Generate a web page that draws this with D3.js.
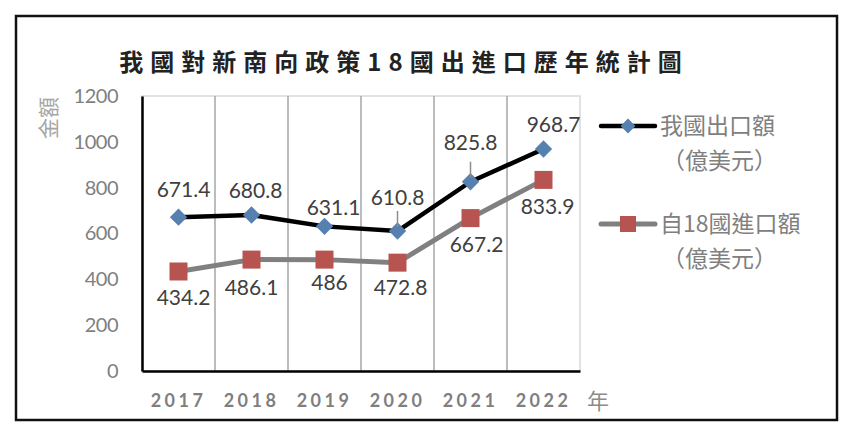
<html>
<head>
<meta charset="utf-8">
<script src="https://cdn.jsdelivr.net/npm/d3@7"></script>
<style>
  body { margin: 0; background: #fff; }
  text { font-family: Lato, "Noto Sans CJK TC", sans-serif; }
  .cjk { font-family: "Noto Sans CJK TC", sans-serif; }
</style>
</head>
<body>
<svg id="chart" width="861" height="427"></svg>
<script>
  // data
  const years = ["2017", "2018", "2019", "2020", "2021", "2022"]
  const exportValues = [671.4, 680.8, 631.1, 610.8, 825.8, 968.7]
  const importValues = [434.2, 486.1, 486, 472.8, 667.2, 833.9]
  const yTicks = [0, 200, 400, 600, 800, 1000, 1200]
  const seriesNames = ["我國出口額", "自18國進口額"]
  const unitLabel = "（億美元）"

  // label nudges (dx, dy) relative to the point
  const exportLabelPos = [[5, -27], [4, -24], [9, -19], [0, -33], [0, -39], [10, -24]]
  const importLabelPos = [[5, 26], [0, 28], [5, 23], [3, 25], [6, 27], [4, 27]]

  let svg = d3.select("#chart")

  // outer frame
  svg.append("rect")
    .attr("x", 16).attr("y", 16)
    .attr("width", 821).attr("height", 404)
    .attr("fill", "#fff")
    .attr("stroke", "#111")
    .attr("stroke-width", 2.5)

  svg.append("text")
    .attr("class", "cjk")
    .attr("x", 404).attr("y", 71)
    .attr("text-anchor", "middle")
    .attr("font-size", 24)
    .attr("font-weight", "bold")
    .attr("letter-spacing", 7)
    .attr("fill", "#222")
    .text("我國對新南向政策18國出進口歷年統計圖")

  let plotLeft = 142, plotRight = 580, plotTop = 96, plotBottom = 371

  let x = d3.scaleBand().domain(years).range([plotLeft, plotRight])
  let y = d3.scaleLinear().domain([0, 1200]).range([plotBottom, plotTop])

  // plot area border (light)
  svg.append("rect")
    .attr("x", plotLeft).attr("y", plotTop)
    .attr("width", plotRight - plotLeft).attr("height", plotBottom - plotTop)
    .attr("fill", "none")
    .attr("stroke", "#d9d9d9")
    .attr("stroke-width", 1.5)

  // vertical grid lines between categories
  svg.append("g")
    .selectAll("line")
    .data(years.slice(1))
    .enter().append("line")
    .attr("x1", d => x(d)).attr("x2", d => x(d))
    .attr("y1", plotTop).attr("y2", plotBottom)
    .attr("stroke", "#a6a6a6")
    .attr("stroke-width", 1.5)

  // y axis
  let yAxis = d3.axisLeft(y).tickValues(yTicks).tickFormat(d3.format("d")).tickSize(0).tickPadding(24)
  let gy = svg.append("g").attr("transform", `translate(${plotLeft},0)`).call(yAxis)
  gy.select(".domain").attr("stroke", "#000").attr("stroke-width", 2.5)
  gy.selectAll("text")
    .attr("font-size", 20)
    .attr("fill", "#7f7f7f")
    .attr("letter-spacing", -0.5)

  // x axis
  let xAxis = d3.axisBottom(x).tickSize(0).tickPadding(23)
  let gx = svg.append("g").attr("transform", `translate(0,${plotBottom})`).call(xAxis)
  gx.select(".domain").attr("stroke", "#000").attr("stroke-width", 2.5)
  gx.selectAll("text")
    .attr("font-size", 18)
    .attr("font-weight", "bold")
    .attr("letter-spacing", 3.5)
    .attr("fill", "#7f7f7f")

  svg.append("text")
    .attr("class", "cjk")
    .attr("x", 598).attr("y", 409)
    .attr("text-anchor", "middle")
    .attr("font-size", 22)
    .attr("fill", "#8c8c8c")
    .text("年")

  svg.append("text")
    .attr("class", "cjk")
    .attr("transform", "translate(56,118) rotate(-90)")
    .attr("text-anchor", "middle")
    .attr("font-size", 21)
    .attr("fill", "#a6a6a6")
    .text("金額")

  let cx = d => x(d) + x.bandwidth() / 2
  let line = d3.line()
    .x((d, i) => cx(years[i]))
    .y(d => y(d))

  // import series
  svg.append("path")
    .datum(importValues)
    .attr("d", line)
    .attr("fill", "none")
    .attr("stroke", "#808080")
    .attr("stroke-width", 5)
    .attr("stroke-linejoin", "round")

  // export series
  svg.append("path")
    .datum(exportValues)
    .attr("d", line)
    .attr("fill", "none")
    .attr("stroke", "#000")
    .attr("stroke-width", 4.5)
    .attr("stroke-linejoin", "round")

  let diamond = d3.symbol().type(d3.symbolSquare).size(150)

  svg.append("g").selectAll("path")
    .data(exportValues)
    .enter().append("path")
    .attr("d", diamond)
    .attr("transform", (d, i) => `translate(${cx(years[i])},${y(d)}) rotate(45)`)
    .attr("fill", "#5580b0")

  svg.append("g").selectAll("rect")
    .data(importValues)
    .enter().append("rect")
    .attr("x", (d, i) => cx(years[i]) - 9)
    .attr("y", d => y(d) - 9)
    .attr("width", 18).attr("height", 18)
    .attr("fill", "#b85450")

  // leader ticks for the labels sitting high above points
  svg.append("g").selectAll("line")
    .data(exportValues.map((v, i) => [v, i]).filter(d => exportLabelPos[d[1]][1] < -30))
    .enter().append("line")
    .attr("x1", d => cx(years[d[1]])).attr("x2", d => cx(years[d[1]]))
    .attr("y1", d => y(d[0]) - 20).attr("y2", d => y(d[0]) - 4)
    .attr("stroke", "#8c8c8c")
    .attr("stroke-width", 1.5)

  // data labels
  svg.append("g").selectAll("text")
    .data(exportValues)
    .enter().append("text")
    .attr("x", (d, i) => cx(years[i]) + exportLabelPos[i][0])
    .attr("y", (d, i) => y(d) + exportLabelPos[i][1])
    .attr("dy", "0.35em")
    .attr("text-anchor", "middle")
    .attr("font-size", 21)
    .attr("fill", "#404040")
    .text(d => d)

  svg.append("g").selectAll("text")
    .data(importValues)
    .enter().append("text")
    .attr("x", (d, i) => cx(years[i]) + importLabelPos[i][0])
    .attr("y", (d, i) => y(d) + importLabelPos[i][1])
    .attr("dy", "0.35em")
    .attr("text-anchor", "middle")
    .attr("font-size", 21)
    .attr("fill", "#404040")
    .text(d => d)

  // legend
  let legend = svg.append("g")
  let legendRows = [
    { name: seriesNames[0], y: 126, stroke: "#000", width: 4.5, marker: "diamond" },
    { name: seriesNames[1], y: 224, stroke: "#808080", width: 5, marker: "square" }
  ]
  legendRows.forEach(r => {
    legend.append("line")
      .attr("x1", 601).attr("x2", 655)
      .attr("y1", r.y).attr("y2", r.y)
      .attr("stroke", r.stroke)
      .attr("stroke-width", r.width)
      .attr("stroke-linecap", "round")
    if (r.marker === "diamond") {
      legend.append("path")
        .attr("d", d3.symbol().type(d3.symbolSquare).size(110))
        .attr("transform", `translate(628,${r.y}) rotate(45)`)
        .attr("fill", "#5580b0")
    } else {
      legend.append("rect")
        .attr("x", 620).attr("y", r.y - 8)
        .attr("width", 16).attr("height", 16)
        .attr("fill", "#b85450")
    }
    legend.append("text")
      .attr("class", "cjk")
      .attr("x", 660).attr("y", r.y)
      .attr("dy", "0.36em")
      .attr("font-size", 23)
      .attr("fill", "#808080")
      .text(r.name)
    legend.append("text")
      .attr("class", "cjk")
      .attr("x", 662).attr("y", r.y + 35)
      .attr("dy", "0.36em")
      .attr("font-size", 23)
      .attr("fill", "#808080")
      .text(unitLabel)
  })
</script>
</body>
</html>
